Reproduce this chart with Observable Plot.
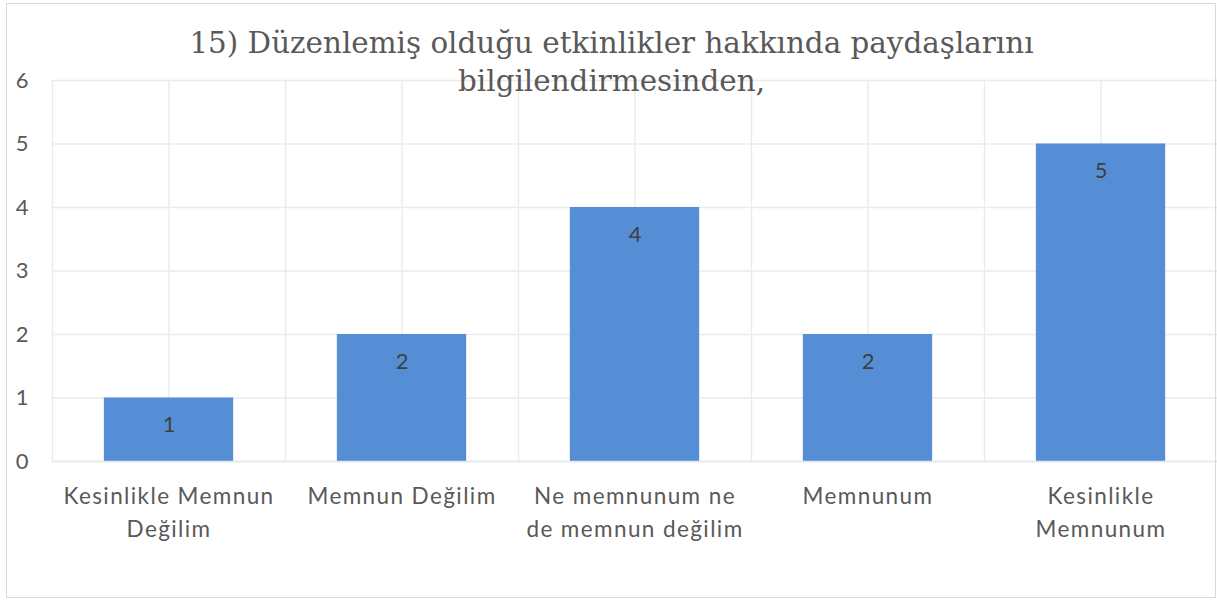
<!DOCTYPE html>
<html>
<head>
<meta charset="utf-8">
<script src="https://cdn.jsdelivr.net/npm/d3@7"></script>
<script src="https://cdn.jsdelivr.net/npm/@observablehq/plot@0.6"></script>
<style>
  html, body { margin: 0; padding: 0; background: #fff; }
  #wrap { position: relative; width: 1217px; height: 601px; overflow: hidden; }
  #border { position: absolute; left: 6px; top: 3px; width: 1208px; height: 593px; border: 1.5px solid #d9d9d9; pointer-events: none; z-index: 3; }
  #chart { position: absolute; left: 0; top: 0; z-index: 1; }
  #chart svg g[aria-label="x-axis tick label"] text { letter-spacing: 1.4px; }
  #title { position: absolute; left: 7px; width: 1209px; top: 24px; text-align: center;
           font-family: "DejaVu Serif", "Liberation Serif", serif; font-size: 29.4px; line-height: 38px;
           color: #595959; z-index: 2; }
</style>
</head>
<body>
<div id="wrap">
  <div id="chart"></div>
  <div id="title">15) Düzenlemiş olduğu etkinlikler hakkında paydaşlarını<br>bilgilendirmesinden,</div>
  <div id="border"></div>
</div>
<script>
const categories = [
  "Kesinlikle Memnun\nDeğilim",
  "Memnun Değilim",
  "Ne memnunum ne\nde memnun değilim",
  "Memnunum",
  "Kesinlikle\nMemnunum"
];
const values = [1, 2, 4, 2, 5];
const yTicks = [0, 1, 2, 3, 4, 5, 6];

const data = categories.map((c, i) => ({i, category: c, value: values[i]}));
const half = 0.2775; // half bar width in category units

const labelFont = "Lato, 'Open Sans', sans-serif";

const chart = Plot.plot({
  width: 1217,
  height: 601,
  marginLeft: 52,
  marginRight: 0,
  marginTop: 80,
  marginBottom: 140,
  style: {fontFamily: labelFont, background: "transparent"},
  x: {domain: [-0.5, categories.length - 0.5]},
  y: {domain: [0, 6]},
  marks: [
    Plot.gridY({ticks: yTicks, stroke: "#ebebeb", strokeOpacity: 1, strokeWidth: 1.4}),
    Plot.gridX({interval: 0.5, stroke: "#ebebeb", strokeOpacity: 1, strokeWidth: 1.4}),
    Plot.rectY(data, {x1: d => d.i - half, x2: d => d.i + half, y: "value", fill: "#558ED5"}),
    Plot.ruleY([0], {stroke: "#e2e8f0", strokeWidth: 1.5}),
    Plot.text(data, {x: "i", y: "value", text: d => String(d.value), dy: 27, fontSize: 22, fill: "#404040"}),
    Plot.axisY({ticks: yTicks, tickFormat: d3.format("d"), label: null, tickSize: 0, tickPadding: 24,
                fontSize: 22, fill: "#595959"}),
    Plot.axisX({ticks: data.map(d => d.i), tickFormat: i => categories[i], label: null, tickSize: 0, tickPadding: 19,
                fontSize: 22.5, lineHeight: 1.47, fill: "#595959"})
  ]
});
document.getElementById("chart").appendChild(chart);
</script>
</body>
</html>
